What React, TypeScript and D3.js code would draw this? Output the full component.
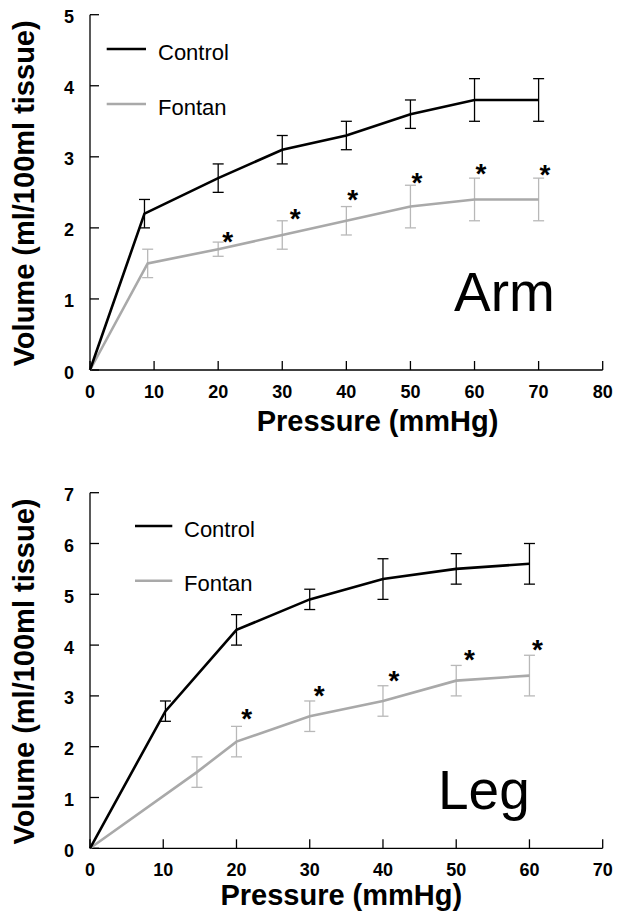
import React from "react";
import * as d3 from "d3";

// ---- Arm panel data ----
const armXTicks = [0, 10, 20, 30, 40, 50, 60, 70, 80];
const armYTicks = [0, 1, 2, 3, 4, 5];
const armPressureControl = [0, 8.5, 20, 30, 40, 50, 60, 70];
const armControl = [0, 2.2, 2.7, 3.1, 3.3, 3.6, 3.8, 3.8];
const armControlErr = [0, 0.2, 0.2, 0.2, 0.2, 0.2, 0.3, 0.3];
const armPressureFontan = [0, 9, 20, 30, 40, 50, 60, 70];
const armFontan = [0, 1.5, 1.7, 1.9, 2.1, 2.3, 2.4, 2.4];
const armFontanErr = [0, 0.2, 0.1, 0.2, 0.2, 0.3, 0.3, 0.3];
const armStarX = [21.5, 32, 41, 51, 61, 71];
const armStarY = [1.9, 2.23, 2.49, 2.74, 2.86, 2.84];

// ---- Leg panel data ----
const legXTicks = [0, 10, 20, 30, 40, 50, 60, 70];
const legYTicks = [0, 1, 2, 3, 4, 5, 6, 7];
const legPressureControl = [0, 10.3, 20, 30, 40, 50, 60];
const legControl = [0, 2.7, 4.3, 4.9, 5.3, 5.5, 5.6];
const legControlErr = [0, 0.2, 0.3, 0.2, 0.4, 0.3, 0.4];
const legPressureFontan = [0, 14.6, 20, 30, 40, 50, 60];
const legFontan = [0, 1.5, 2.1, 2.6, 2.9, 3.3, 3.4];
const legFontanErr = [0, 0.3, 0.3, 0.3, 0.3, 0.3, 0.4];
const legStarX = [21.4, 31.3, 41.5, 51.8, 61.1];
const legStarY = [2.69, 3.15, 3.43, 3.85, 4.05];

const seriesNames = ["Control", "Fontan"];
const yTitle = "Volume (ml/100ml tissue)";
const xTitle = "Pressure (mmHg)";

const FONT = "'Liberation Sans', Arial, Helvetica, sans-serif";
const CONTROL_COLOR = "#000000";
const FONTAN_COLOR = "#a9a9a9";
const FONTAN_ERR_COLOR = "#b8b8b8";

type PanelProps = {
  xDomain: [number, number];
  yDomain: [number, number];
  xRange: [number, number];
  yRange: [number, number];
  xTicks: number[];
  yTicks: number[];
  cx: number[];
  cy: number[];
  ce: number[];
  fx: number[];
  fy: number[];
  fe: number[];
  sx: number[];
  sy: number[];
  label: string;
  labelPos: [number, number];
  legendLineX: [number, number];
  legendY: [number, number];
  legendTextX: number;
  xTitleX: number;
  xTitleY: number;
  tickLabelY: number;
};

function Panel(p: PanelProps) {
  const x = d3.scaleLinear().domain(p.xDomain).range(p.xRange);
  const y = d3.scaleLinear().domain(p.yDomain).range(p.yRange);
  const line = (xs: number[], ys: number[]) =>
    d3
      .line<number>()
      .x((_, i) => x(xs[i]))
      .y((d) => y(d))(ys) || "";
  const errBars = (xs: number[], ys: number[], es: number[], color: string, key: string) =>
    ys.map((v, i) =>
      es[i] > 0 ? (
        <g key={key + i} stroke={color} strokeWidth={1.3} fill="none">
          <line x1={x(xs[i])} x2={x(xs[i])} y1={y(v - es[i])} y2={y(v + es[i])} />
          <line x1={x(xs[i]) - 5.5} x2={x(xs[i]) + 5.5} y1={y(v - es[i])} y2={y(v - es[i])} />
          <line x1={x(xs[i]) - 5.5} x2={x(xs[i]) + 5.5} y1={y(v + es[i])} y2={y(v + es[i])} />
        </g>
      ) : null
    );
  const x0 = p.xRange[0];
  const yBottom = p.yRange[0];
  const yTop = p.yRange[1];
  const starFs = 28;
  return (
    <g fontFamily={FONT}>
      {/* axes */}
      <line x1={x0} x2={x0} y1={yBottom} y2={yTop} stroke="#000" strokeWidth={1.3} />
      <line x1={x0} x2={p.xRange[1]} y1={yBottom} y2={yBottom} stroke="#000" strokeWidth={1.3} />
      {p.yTicks.map((t) => (
        <g key={"yt" + t}>
          <line x1={x0} x2={x0 + 9} y1={y(t)} y2={y(t)} stroke="#000" strokeWidth={1.3} />
          <text
            x={x0 - 16}
            y={y(t) + 6.5 + 2 + (t === 0 ? 0.5 : 0)}
            textAnchor="end"
            fontSize={18}
            fontWeight="bold"
          >
            {t}
          </text>
        </g>
      ))}
      {p.xTicks.map((t) => (
        <g key={"xt" + t}>
          <line x1={x(t)} x2={x(t)} y1={yBottom} y2={yBottom - 9} stroke="#000" strokeWidth={1.3} />
          <text x={x(t)} y={p.tickLabelY} textAnchor="middle" fontSize={18} fontWeight="bold">
            {t}
          </text>
        </g>
      ))}
      {/* y title */}
      <text
        transform={`translate(34,${(yBottom + yTop) / 2 + 1}) rotate(-90)`}
        textAnchor="middle"
        fontSize={29}
        fontWeight="bold"
      >
        {yTitle}
      </text>
      <text x={p.xTitleX} y={p.xTitleY} textAnchor="middle" fontSize={29} fontWeight="bold">
        {xTitle}
      </text>
      {/* series */}
      {errBars(p.fx, p.fy, p.fe, FONTAN_ERR_COLOR, "fe")}
      <path d={line(p.fx, p.fy)} fill="none" stroke={FONTAN_COLOR} strokeWidth={2.6} />
      {errBars(p.cx, p.cy, p.ce, CONTROL_COLOR, "ce")}
      <path d={line(p.cx, p.cy)} fill="none" stroke={CONTROL_COLOR} strokeWidth={2.6} />
      {/* stars */}
      {p.sx.map((sx, i) => (
        <text
          key={"s" + i}
          x={x(sx)}
          y={y(p.sy[i]) + starFs * 0.58}
          textAnchor="middle"
          fontSize={starFs}
          fontWeight="bold"
        >
          *
        </text>
      ))}
      {/* legend */}
      {seriesNames.map((n, i) => (
        <g key={n}>
          <line
            x1={p.legendLineX[0]}
            x2={p.legendLineX[1]}
            y1={p.legendY[i]}
            y2={p.legendY[i]}
            stroke={i === 0 ? CONTROL_COLOR : FONTAN_COLOR}
            strokeWidth={2.6}
          />
          <text x={p.legendTextX} y={p.legendY[i] + 10.5} fontSize={22}>
            {n}
          </text>
        </g>
      ))}
      <text x={p.labelPos[0]} y={p.labelPos[1]} fontSize={55}>
        {p.label}
      </text>
    </g>
  );
}

export default function App() {
  return (
    <svg
      width={619}
      height={917}
      style={{ position: "absolute", left: 0, top: 0, background: "#fff" }}
    >
      <rect width={619} height={917} fill="#fff" />
      <Panel
        xDomain={[0, 80]}
        yDomain={[0, 5]}
        xRange={[90, 602.7]}
        yRange={[370, 14.7]}
        xTicks={armXTicks}
        yTicks={armYTicks}
        cx={armPressureControl}
        cy={armControl}
        ce={armControlErr}
        fx={armPressureFontan}
        fy={armFontan}
        fe={armFontanErr}
        sx={armStarX}
        sy={armStarY}
        label="Arm"
        labelPos={[454, 310.5]}
        legendLineX={[106.7, 146]}
        legendY={[49, 104]}
        legendTextX={158}
        xTitleX={377.5}
        xTitleY={431}
        tickLabelY={397.5}
      />
      <Panel
        xDomain={[0, 70]}
        yDomain={[0, 7]}
        xRange={[90, 602.7]}
        yRange={[848.3, 492.7]}
        xTicks={legXTicks}
        yTicks={legYTicks}
        cx={legPressureControl}
        cy={legControl}
        ce={legControlErr}
        fx={legPressureFontan}
        fy={legFontan}
        fe={legFontanErr}
        sx={legStarX}
        sy={legStarY}
        label="Leg"
        labelPos={[438, 808.5]}
        legendLineX={[135, 172.3]}
        legendY={[526, 580.7]}
        legendTextX={184}
        xTitleX={341.3}
        xTitleY={905}
        tickLabelY={875.5}
      />
    </svg>
  );
}
